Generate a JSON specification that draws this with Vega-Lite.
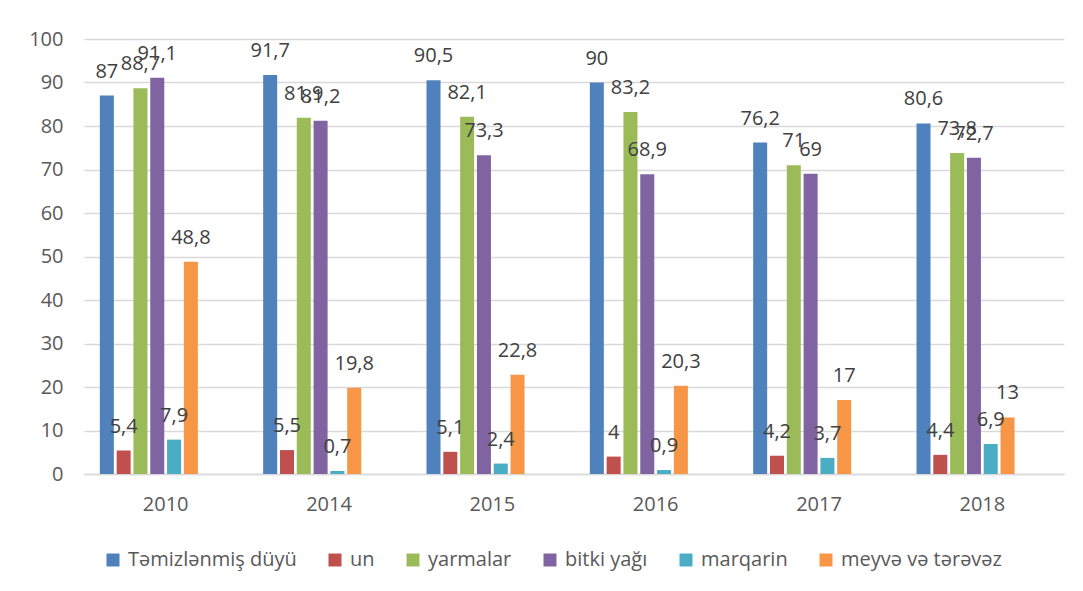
{
  "$schema": "https://vega.github.io/schema/vega-lite/v6.json",
  "width": 980,
  "height": 435,
  "autosize": {"type": "none"},
  "padding": {"left": 84, "top": 39, "right": 19, "bottom": 117},
  "background": "white",
  "config": {
    "font": "Open Sans",
    "locale": {"number": {"decimal": ",", "thousands": " ", "grouping": [3], "currency": ["", ""]}},
    "view": {"stroke": null}
  },
  "data": {
    "values": [
      {"year": "2010", "product": "Təmizlənmiş düyü", "value": 87},
      {"year": "2010", "product": "un", "value": 5.4},
      {"year": "2010", "product": "yarmalar", "value": 88.7},
      {"year": "2010", "product": "bitki yağı", "value": 91.1},
      {"year": "2010", "product": "marqarin", "value": 7.9},
      {"year": "2010", "product": "meyvə və tərəvəz", "value": 48.8},
      {"year": "2014", "product": "Təmizlənmiş düyü", "value": 91.7},
      {"year": "2014", "product": "un", "value": 5.5},
      {"year": "2014", "product": "yarmalar", "value": 81.9},
      {"year": "2014", "product": "bitki yağı", "value": 81.2},
      {"year": "2014", "product": "marqarin", "value": 0.7},
      {"year": "2014", "product": "meyvə və tərəvəz", "value": 19.8},
      {"year": "2015", "product": "Təmizlənmiş düyü", "value": 90.5},
      {"year": "2015", "product": "un", "value": 5.1},
      {"year": "2015", "product": "yarmalar", "value": 82.1},
      {"year": "2015", "product": "bitki yağı", "value": 73.3},
      {"year": "2015", "product": "marqarin", "value": 2.4},
      {"year": "2015", "product": "meyvə və tərəvəz", "value": 22.8},
      {"year": "2016", "product": "Təmizlənmiş düyü", "value": 90},
      {"year": "2016", "product": "un", "value": 4},
      {"year": "2016", "product": "yarmalar", "value": 83.2},
      {"year": "2016", "product": "bitki yağı", "value": 68.9},
      {"year": "2016", "product": "marqarin", "value": 0.9},
      {"year": "2016", "product": "meyvə və tərəvəz", "value": 20.3},
      {"year": "2017", "product": "Təmizlənmiş düyü", "value": 76.2},
      {"year": "2017", "product": "un", "value": 4.2},
      {"year": "2017", "product": "yarmalar", "value": 71},
      {"year": "2017", "product": "bitki yağı", "value": 69},
      {"year": "2017", "product": "marqarin", "value": 3.7},
      {"year": "2017", "product": "meyvə və tərəvəz", "value": 17},
      {"year": "2018", "product": "Təmizlənmiş düyü", "value": 80.6},
      {"year": "2018", "product": "un", "value": 4.4},
      {"year": "2018", "product": "yarmalar", "value": 73.8},
      {"year": "2018", "product": "bitki yağı", "value": 72.7},
      {"year": "2018", "product": "marqarin", "value": 6.9},
      {"year": "2018", "product": "meyvə və tərəvəz", "value": 13}
    ]
  },
  "encoding": {
    "x": {
      "field": "year",
      "type": "nominal",
      "sort": null,
      "scale": {"paddingInner": 0.194, "paddingOuter": 0.097},
      "axis": {
        "title": null,
        "labelAngle": 0,
        "labelFontSize": 20,
        "labelColor": "#595959",
        "labelPadding": 20,
        "ticks": false,
        "tickSize": 0,
        "domain": true,
        "domainColor": "#D9D9D9",
        "domainWidth": 1.3,
        "grid": false
      }
    },
    "xOffset": {
      "field": "product",
      "type": "nominal",
      "scale": {
        "domain": ["Təmizlənmiş düyü", "un", "yarmalar", "bitki yağı", "marqarin", "meyvə və tərəvəz", "_empty1", "_empty2"],
        "paddingInner": 0.1667,
        "paddingOuter": 0
      }
    },
    "y": {
      "field": "value",
      "type": "quantitative",
      "scale": {"domain": [0, 100], "nice": false},
      "axis": {
        "title": null,
        "values": [0, 10, 20, 30, 40, 50, 60, 70, 80, 90, 100],
        "labelFontSize": 20,
        "labelColor": "#595959",
        "labelPadding": 21,
        "ticks": false,
        "tickSize": 0,
        "domain": false,
        "grid": true,
        "gridColor": "#D9D9D9",
        "gridWidth": 1.3
      }
    }
  },
  "layer": [
    {
      "mark": {"type": "bar"},
      "encoding": {
        "color": {
          "field": "product",
          "type": "nominal",
          "scale": {
            "domain": ["Təmizlənmiş düyü", "un", "yarmalar", "bitki yağı", "marqarin", "meyvə və tərəvəz"],
            "range": ["#4F81BD", "#C0504D", "#9BBB59", "#8064A2", "#4BACC6", "#F79646"]
          },
          "legend": {
            "orient": "none",
            "legendX": 19,
            "legendY": 511,
            "direction": "horizontal",
            "columns": 6,
            "title": null,
            "symbolType": "square",
            "symbolSize": 169,
            "symbolStrokeWidth": 0,
            "labelFontSize": 20,
            "labelColor": "#595959",
            "labelOffset": 5,
            "columnPadding": 28,
            "padding": 0,
            "labelLimit": 0
          }
        }
      }
    },
    {
      "mark": {"type": "text", "dy": -24, "baseline": "middle", "align": "center", "fontSize": 20, "color": "#404040"},
      "encoding": {
        "text": {"field": "value", "type": "quantitative", "format": ".1~f"}
      }
    }
  ]
}
